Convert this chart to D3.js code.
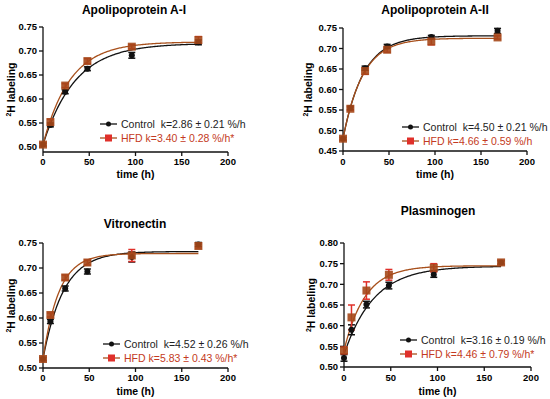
<!DOCTYPE html>
<html lang="en">
<head>
<meta charset="UTF-8">
<title>2H labeling kinetics</title>
<style>
  body { margin: 0; background: #fff; }
  svg { font-family: "Liberation Sans", Arial, sans-serif; }
  .leg { white-space: pre; }
</style>
</head>
<body>
<div id="chart"></div>
<script src="https://d3js.org/d3.v7.min.js"></script>
<script>
// sampling times (h)
var times = [0, 8, 24, 48, 96, 168];
var xTicks = [0, 50, 100, 150, 200];

var titles = ["Apolipoprotein A-I", "Apolipoprotein A-II", "Vitronectin", "Plasminogen"];
var ctrlLabels = ["Control  k=2.86 \u00b1 0.21 %/h", "Control  k=4.50 \u00b1 0.21 %/h",
                  "Control  k=4.52 \u00b1 0.26 %/h", "Control  k=3.16 \u00b1 0.19 %/h"];
var hfdLabels = ["HFD k=3.40 \u00b1 0.28 %/h*", "HFD k=4.66 \u00b1 0.59 %/h",
                 "HFD k=5.83 \u00b1 0.43 %/h*", "HFD k=4.46 \u00b1 0.79 %/h*"];

// means and error (SEM)
var apoAI_ctrl    = [0.505, 0.546, 0.615, 0.663, 0.691, 0.718];
var apoAI_ctrlErr = [0.003, 0.004, 0.004, 0.004, 0.006, 0.005];
var apoAI_hfd     = [0.505, 0.552, 0.628, 0.679, 0.709, 0.723];
var apoAI_hfdErr  = [0.003, 0.006, 0.004, 0.005, 0.004, 0.007];

var apoAII_ctrl    = [0.480, 0.555, 0.652, 0.705, 0.728, 0.743];
var apoAII_ctrlErr = [0.003, 0.004, 0.005, 0.005, 0.004, 0.006];
var apoAII_hfd     = [0.480, 0.553, 0.645, 0.697, 0.717, 0.727];
var apoAII_hfdErr  = [0.003, 0.004, 0.008, 0.006, 0.008, 0.004];

var vitro_ctrl    = [0.518, 0.593, 0.659, 0.693, 0.722, 0.747];
var vitro_ctrlErr = [0.003, 0.004, 0.005, 0.005, 0.010, 0.004];
var vitro_hfd     = [0.518, 0.606, 0.681, 0.711, 0.725, 0.744];
var vitro_hfdErr  = [0.003, 0.004, 0.005, 0.005, 0.012, 0.004];

var plasm_ctrl    = [0.522, 0.590, 0.651, 0.697, 0.724, 0.753];
var plasm_ctrlErr = [0.008, 0.012, 0.008, 0.008, 0.007, 0.004];
var plasm_hfd     = [0.540, 0.620, 0.685, 0.723, 0.740, 0.753];
var plasm_hfdErr  = [0.008, 0.030, 0.021, 0.013, 0.010, 0.005];

// one-phase fit: k (%/h) from legend, start and plateau
var ctrlK     = [2.86, 4.50, 4.52, 3.16];
var ctrlStart = [0.505, 0.480, 0.518, 0.530];
var ctrlTop   = [0.716, 0.731, 0.733, 0.744];
var hfdK      = [3.40, 4.66, 5.83, 4.46];
var hfdStart  = [0.505, 0.480, 0.518, 0.540];
var hfdTop    = [0.719, 0.725, 0.729, 0.745];

var yDomains = [[0.5, 0.75], [0.45, 0.75], [0.5, 0.75], [0.5, 0.8]];

var panelData = [
  [apoAI_ctrl, apoAI_ctrlErr, apoAI_hfd, apoAI_hfdErr],
  [apoAII_ctrl, apoAII_ctrlErr, apoAII_hfd, apoAII_hfdErr],
  [vitro_ctrl, vitro_ctrlErr, vitro_hfd, vitro_hfdErr],
  [plasm_ctrl, plasm_ctrlErr, plasm_hfd, plasm_hfdErr]
];

// layout of each panel (pixel positions)
var layout = [
  {x0: 43,  x1: 228, yTop: 27,  yBot: 147, axisY: 152, titleX: 134, titleY: 14,  labX: 14,  legX: 100, legY: 124, tickY: 165, timeY: 178},
  {x0: 343, x1: 527, yTop: 28,  yBot: 151, axisY: 151, titleX: 435, titleY: 14,  labX: 311, legX: 402, legY: 127, tickY: 165, timeY: 178},
  {x0: 43,  x1: 228, yTop: 243, yBot: 368, axisY: 368, titleX: 135, titleY: 228, labX: 14,  legX: 103, legY: 344, tickY: 381, timeY: 395},
  {x0: 344, x1: 531, yTop: 243, yBot: 367, axisY: 367, titleX: 438, titleY: 215, labX: 314, legX: 400, legY: 340, tickY: 381, timeY: 395}
];

var black = "#111";
var hfdLine = "#a8501c";
var hfdMark = "#a5481a";
var hfdErrCol = "#e0302a";
var hfdText = "#c43a22";

var svg = d3.select("#chart").append("svg")
  .attr("width", 550).attr("height", 399);

function drawPanel(i) {
  var L = layout[i];
  var dom = yDomains[i];
  var g = svg.append("g");

  var x = d3.scaleLinear().domain([0, 200]).range([L.x0, L.x1]);
  var y = d3.scaleLinear().domain(dom).range([L.yBot, L.yTop]);
  var yTicks = d3.range(dom[0], dom[1] + 0.0001, 0.05);

  // title
  g.append("text")
    .attr("x", L.titleX).attr("y", L.titleY)
    .attr("text-anchor", "middle")
    .style("font-size", "12px").style("font-weight", "bold")
    .text(titles[i]);

  // y axis
  g.append("line")
    .attr("x1", L.x0).attr("x2", L.x0)
    .attr("y1", y(dom[1])).attr("y2", L.axisY)
    .attr("stroke", black).attr("stroke-width", 1.3);
  yTicks.forEach(function (t) {
    g.append("line")
      .attr("x1", L.x0 - 4).attr("x2", L.x0)
      .attr("y1", y(t)).attr("y2", y(t))
      .attr("stroke", black).attr("stroke-width", 1.3);
    g.append("text")
      .attr("x", L.x0 - 6).attr("y", y(t) + 3.3)
      .attr("text-anchor", "end")
      .style("font-size", "9.5px").style("font-weight", "bold")
      .text(d3.format(".2f")(t));
  });

  // x axis
  g.append("line")
    .attr("x1", L.x0).attr("x2", L.x1)
    .attr("y1", L.axisY).attr("y2", L.axisY)
    .attr("stroke", black).attr("stroke-width", 1.3);
  xTicks.forEach(function (t) {
    g.append("line")
      .attr("x1", x(t)).attr("x2", x(t))
      .attr("y1", L.axisY).attr("y2", L.axisY + 4)
      .attr("stroke", black).attr("stroke-width", 1.3);
    g.append("text")
      .attr("x", x(t)).attr("y", L.tickY)
      .attr("text-anchor", "middle")
      .style("font-size", "9.5px").style("font-weight", "bold")
      .text(t);
  });

  g.append("text")
    .attr("x", (L.x0 + L.x1) / 2).attr("y", L.timeY)
    .attr("text-anchor", "middle")
    .style("font-size", "10.5px").style("font-weight", "bold")
    .text("time (h)");

  // y label
  var yl = g.append("text")
    .attr("transform", "translate(" + L.labX + "," + ((y(dom[1]) + L.axisY) / 2) + ") rotate(-90)")
    .attr("text-anchor", "middle")
    .style("font-size", "10.5px").style("font-weight", "bold");
  yl.append("tspan").attr("dy", "-0.4em").style("font-size", "7px").text("2");
  yl.append("tspan").attr("dy", "0.4em").text("H labeling");

  // fitted curves
  var tGrid = d3.range(0, 168.5, 1);
  function fitLine(k, start, top) {
    return d3.line()
      .x(function (t) { return x(t); })
      .y(function (t) { return y(top - (top - start) * Math.exp(-k / 100 * t)); })(tGrid);
  }
  g.append("path")
    .attr("d", fitLine(ctrlK[i], ctrlStart[i], ctrlTop[i]))
    .attr("fill", "none").attr("stroke", black).attr("stroke-width", 1.3);
  g.append("path")
    .attr("d", fitLine(hfdK[i], hfdStart[i], hfdTop[i]))
    .attr("fill", "none").attr("stroke", hfdLine).attr("stroke-width", 1.3);

  var d = panelData[i];

  // error bars
  function errBars(mean, err, col) {
    times.forEach(function (t, j) {
      var cx = x(t);
      g.append("line")
        .attr("x1", cx).attr("x2", cx)
        .attr("y1", y(mean[j] - err[j])).attr("y2", y(mean[j] + err[j]))
        .attr("stroke", col).attr("stroke-width", 1.5);
      [mean[j] - err[j], mean[j] + err[j]].forEach(function (v) {
        g.append("line")
          .attr("x1", cx - 3.5).attr("x2", cx + 3.5)
          .attr("y1", y(v)).attr("y2", y(v))
          .attr("stroke", col).attr("stroke-width", 1.5);
      });
    });
  }
  errBars(d[0], d[1], black);
  errBars(d[2], d[3], hfdErrCol);

  // markers
  g.selectAll(".ctrl").data(times).enter().append("circle")
    .attr("cx", function (t) { return x(t); })
    .attr("cy", function (t, j) { return y(d[0][j]); })
    .attr("r", 3).attr("fill", black);
  g.selectAll(".hfd").data(times).enter().append("rect")
    .attr("x", function (t) { return x(t) - 4; })
    .attr("y", function (t, j) { return y(d[2][j]) - 4; })
    .attr("width", 8).attr("height", 8)
    .attr("fill", hfdMark).attr("opacity", 0.9);

  // legend
  g.append("line")
    .attr("x1", L.legX).attr("x2", L.legX + 17)
    .attr("y1", L.legY).attr("y2", L.legY)
    .attr("stroke", black).attr("stroke-width", 1.3);
  g.append("circle").attr("cx", L.legX + 8.5).attr("cy", L.legY).attr("r", 2.5).attr("fill", black);
  g.append("text")
    .attr("class", "leg")
    .attr("x", L.legX + 21).attr("y", L.legY + 4)
    .style("font-size", "10.5px").attr("fill", "#222")
    .text(ctrlLabels[i]);

  var hy = L.legY + 14;
  g.append("line")
    .attr("x1", L.legX).attr("x2", L.legX + 17)
    .attr("y1", hy).attr("y2", hy)
    .attr("stroke", hfdLine).attr("stroke-width", 1.3);
  g.append("rect").attr("x", L.legX + 5).attr("y", hy - 3.5).attr("width", 7).attr("height", 7).attr("fill", hfdErrCol);
  g.append("text")
    .attr("class", "leg")
    .attr("x", L.legX + 21).attr("y", hy + 4)
    .style("font-size", "10.5px").attr("fill", hfdText)
    .text(hfdLabels[i]);
}

for (var i = 0; i < 4; i++) drawPanel(i);
</script>
</body>
</html>
